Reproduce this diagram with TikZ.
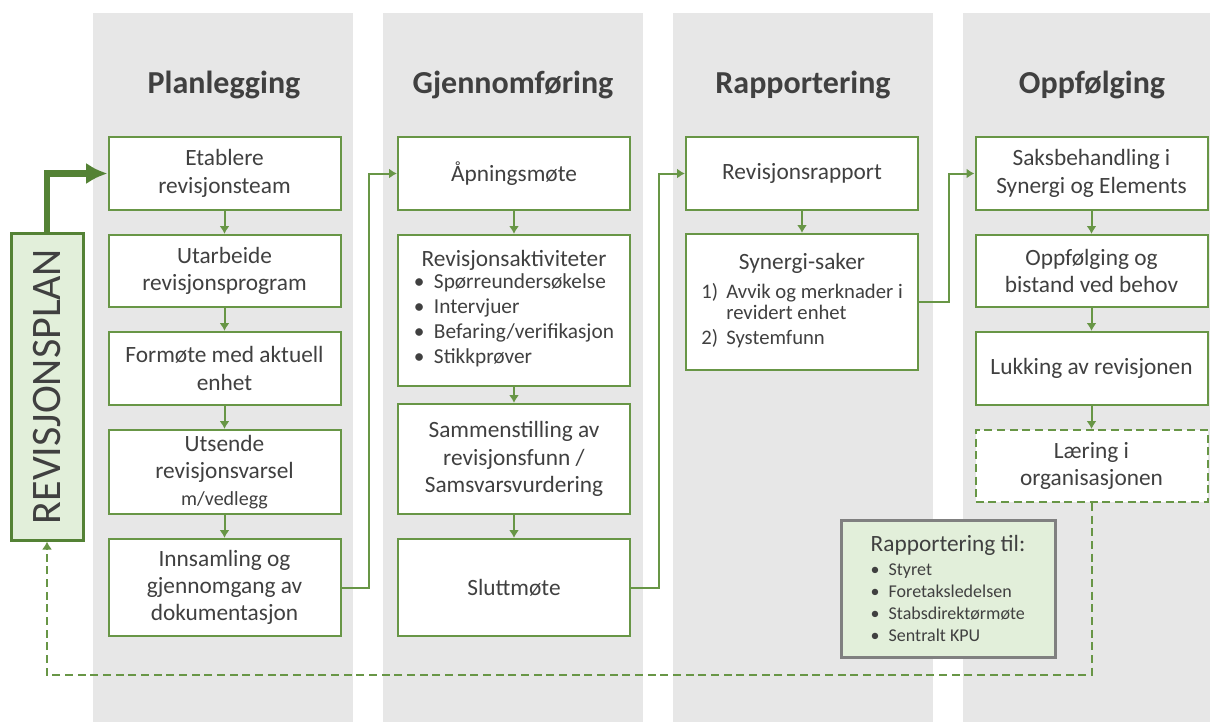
\documentclass[tikz,border=0pt]{standalone}
\usepackage{fontspec}
\setmainfont{Carlito}
\usetikzlibrary{arrows.meta}
\definecolor{colgray}{RGB}{231,231,231}
\definecolor{boxgreen}{RGB}{104,150,70}
\definecolor{darkgreen}{RGB}{84,130,53}
\definecolor{lightgreen}{RGB}{226,239,218}
\definecolor{txtgray}{RGB}{64,64,64}
\definecolor{framegray}{RGB}{128,128,128}
\newcommand\blt{\makebox[15pt][l]{\textbullet}}
\newcommand\sblt{\makebox[13.5pt][l]{\textbullet}}
\newcommand\nbr[1]{\makebox[18.75pt][l]{#1}}

\begin{document}
\begin{tikzpicture}[x=0.75pt,y=-0.75pt]
      \tikzset{heading/.style={font=\fontsize{24}{28}\selectfont\bfseries,text=txtgray}}
      \tikzset{revbox/.style={draw=boxgreen,fill=white,line width=1.5pt,text=txtgray,align=center,
          minimum width=174pt,inner sep=2pt,font=\fontsize{17.5}{20.5}\selectfont}}
      \tikzset{flow/.style={draw=boxgreen,line width=1.5pt,-{Latex[length=6pt,width=7.5pt]}}}
      \tikzset{bigflow/.style={draw=darkgreen,line width=5pt,-{Latex[length=16pt,width=16pt]}}}
      \tikzset{fbflow/.style={flow,dash pattern=on 6pt off 3.5pt}}
      \useasboundingbox (0,0) rectangle (1210,722);
      \foreach \cx/\cw in {93/260,383/260,673/260,963/247}
        \fill[colgray] (\cx,13) rectangle ++(\cw,709);
      \node[heading] (hplan) at (224,85) {Planlegging};
      \node[heading] (hgjen) at (513,85) {Gjennomføring};
      \node[heading] (hrapp) at (803,85) {Rapportering};
      \node[heading] (hopp) at (1092,85) {Oppfølging};
      % planlegging
      \node[revbox,minimum height=54.75pt] (etab) at (224.5,173.5) {Etablere\\revisjonsteam};
      \node[revbox,minimum height=54pt] (utarb) at (224.5,271) {Utarbeide\\revisjonsprogram};
      \node[revbox,minimum height=54.75pt] (formote) at (224.5,368.5) {Formøte med aktuell\\enhet};
      \node[revbox,minimum height=63pt] (utsend) at (224.5,472)
        {Utsende\\revisjonsvarsel\\{\fontsize{15}{19}\selectfont m/vedlegg}};
      \node[revbox,minimum height=72.75pt] (innsam) at (224.5,587.5)
        {Innsamling og\\gjennomgang av\\dokumentasjon};
      % gjennomforing
      \node[revbox,minimum height=54.75pt] (apning) at (514,173.5) {Åpningsmøte};
      \node[revbox,minimum height=113.25pt] (aktiv) at (514,310.5)
        {Revisjonsaktiviteter\\[-4.5pt]
         {\fontsize{16}{18.75}\selectfont\begin{tabular}[t]{@{}l@{}}
           \blt Spørreundersøkelse\\ \blt Intervjuer\\ \blt Befaring/verifikasjon\\ \blt Stikkprøver
         \end{tabular}}};
      \node[revbox,minimum height=82.5pt] (sammen) at (514,459)
        {Sammenstilling av\\revisjonsfunn /\\Samsvarsvurdering};
      \node[revbox,minimum height=72.75pt] (slutt) at (514,587.5) {Sluttmøte};
      % rapportering
      \node[revbox,minimum height=54.75pt] (rapport) at (802,173.5) {Revisjonsrapport};
      \node[revbox,minimum height=102pt] (synergi) at (802,302)
        {Synergi-saker\\[1.5pt]
         {\fontsize{15.5}{15.75}\selectfont\begin{tabular}[t]{@{}l@{}}
           \nbr{1)}Avvik og merknader i\\ \hspace*{18.75pt}revidert enhet\\[3pt] \nbr{2)}Systemfunn
         \end{tabular}}};
      % oppfolging
      \node[revbox,minimum height=54.75pt] (saksb) at (1091.5,173.5) {Saksbehandling i\\Synergi og Elements};
      \node[revbox,minimum height=54pt] (bistand) at (1091.5,271) {Oppfølging og\\bistand ved behov};
      \node[revbox,minimum height=54.75pt] (lukk) at (1091.5,368.5) {Lukking av revisjonen};
      \node[revbox,dash pattern=on 6pt off 3.5pt,minimum height=54pt] (laer) at (1091.5,466)
        {Læring i\\organisasjonen};
      \node[draw=framegray,line width=2.25pt,fill=lightgreen,text=txtgray,align=left,
            minimum width=160.5pt,minimum height=102.75pt,font=\fontsize{13.5}{16.5}\selectfont] (rapptil) at (948,588.5)
        {{\fontsize{17.5}{21}\selectfont Rapportering til:}\\[1pt]
         \sblt Styret\\ \sblt Foretaksledelsen\\ \sblt Stabsdirektørmøte\\ \sblt Sentralt KPU};
      \node[draw=darkgreen,line width=2.25pt,fill=lightgreen,text=txtgray,rotate=90,
            minimum width=230.25pt,minimum height=54pt,font=\fontsize{31.5}{36}\selectfont] (plan) at (47,386.5)
        {REVISJONSPLAN};
      \coordinate (fbturn) at (47,675);
      \draw[flow] (etab) -- (utarb);
      \draw[flow] (utarb) -- (formote);
      \draw[flow] (formote) -- (utsend);
      \draw[flow] (utsend) -- (innsam);
      \draw[flow] (apning) -- (aktiv);
      \draw[flow] (aktiv) -- (sammen);
      \draw[flow] (sammen) -- (slutt);
      \draw[flow] (rapport) -- (synergi);
      \draw[flow] (saksb) -- (bistand);
      \draw[flow] (bistand) -- (lukk);
      \draw[flow] (lukk) -- (laer);
      \draw[flow] (innsam.east) -- ++(27,0) |- (apning.west);
      \draw[flow] (slutt.east) -- ++(28,0) |- (rapport.west);
      \draw[flow] (synergi.east) -- ++(30,0) |- (saksb.west);
      \draw[bigflow] (plan.east) |- (etab.west);
      \draw[fbflow] (laer.south) |- (fbturn) -- (plan.west);
\end{tikzpicture}
\end{document}
